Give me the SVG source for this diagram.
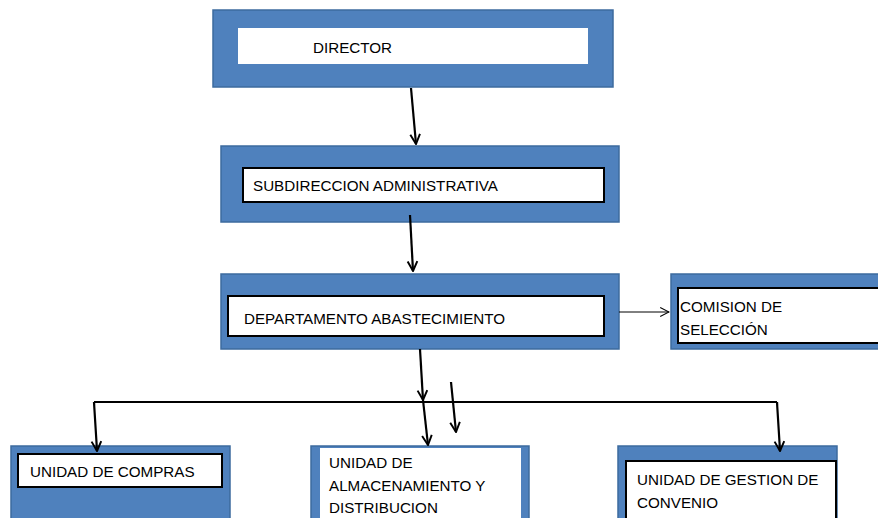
<svg xmlns="http://www.w3.org/2000/svg" width="878" height="518" viewBox="0 0 878 518">
  <style>
    .outer { fill: #4f81bd; stroke: #3d6b9e; stroke-width: 1.5; }
    .inner { fill: #ffffff; stroke: #000000; stroke-width: 2; }
    .plain { fill: #ffffff; stroke: none; }
    .label { font-family: "Liberation Sans", Arial, sans-serif; font-size: 15.2px; fill: #000000; }
    .conn { fill: none; stroke: #000000; stroke-width: 2.2; }
    .thin { fill: none; stroke: #000000; stroke-width: 1; }
  </style>
  <defs>
    <marker id="head" viewBox="0 0 10 10" refX="9" refY="5" markerWidth="5.5" markerHeight="5.5" orient="auto" markerUnits="strokeWidth">
      <path d="M1,1 L9,5 L1,9" fill="none" stroke="#000" stroke-width="1.6"/>
    </marker>
    <marker id="headThin" viewBox="0 0 10 10" refX="9" refY="5" markerWidth="11" markerHeight="11" orient="auto" markerUnits="strokeWidth">
      <path d="M1,1 L9,5 L1,9" fill="none" stroke="#000" stroke-width="1"/>
    </marker>
  </defs>

  <g id="director">
    <rect class="outer" x="213" y="10" width="400" height="77"/>
    <rect class="plain" x="238" y="28" width="350" height="36"/>
    <text class="label" x="313" y="53">DIRECTOR</text>
  </g>

  <g id="subdireccion">
    <rect class="outer" x="221" y="146" width="398" height="76"/>
    <rect class="inner" x="243" y="168" width="361" height="34"/>
    <text class="label" x="253" y="191">SUBDIRECCION ADMINISTRATIVA</text>
  </g>

  <g id="departamento">
    <rect class="outer" x="221" y="274" width="398" height="75"/>
    <rect class="inner" x="228" y="296" width="376" height="40"/>
    <text class="label" x="244" y="324">DEPARTAMENTO ABASTECIMIENTO</text>
  </g>

  <g id="comision">
    <rect class="outer" x="671" y="274" width="212" height="75"/>
    <rect class="inner" x="678" y="288" width="210" height="55"/>
    <text class="label" x="680" y="312">COMISION DE</text>
    <text class="label" x="680" y="335">SELECCIÓN</text>
  </g>

  <g id="compras">
    <rect class="outer" x="11" y="446" width="219" height="80"/>
    <rect class="inner" x="18" y="454" width="204" height="33"/>
    <text class="label" x="30" y="477">UNIDAD DE COMPRAS</text>
  </g>

  <g id="almacenamiento">
    <rect class="outer" x="311" y="446" width="218" height="80"/>
    <rect class="plain" x="320" y="448" width="201" height="80"/>
    <text class="label" x="329" y="468">UNIDAD DE</text>
    <text class="label" x="329" y="491">ALMACENAMIENTO Y</text>
    <text class="label" x="329" y="513">DISTRIBUCION</text>
  </g>

  <g id="convenio">
    <rect class="outer" x="618" y="446" width="219" height="80"/>
    <rect class="inner" x="626" y="461" width="210" height="60"/>
    <text class="label" x="637" y="485">UNIDAD DE GESTION DE</text>
    <text class="label" x="637" y="508">CONVENIO</text>
  </g>

  <g id="connectors">
    <line class="conn" x1="411" y1="88" x2="416" y2="144" marker-end="url(#head)"/>
    <line class="conn" x1="410" y1="215" x2="413" y2="271" marker-end="url(#head)"/>
    <line class="thin" x1="619" y1="312" x2="669" y2="312" marker-end="url(#headThin)"/>
    <line class="conn" x1="420" y1="349" x2="423" y2="400" marker-end="url(#head)"/>
    <line class="conn" x1="423" y1="400" x2="428" y2="445" marker-end="url(#head)"/>
    <line class="conn" x1="451" y1="382" x2="456" y2="432" marker-end="url(#head)"/>
    <polyline class="conn" points="94,402 777,402"/>
    <line class="conn" x1="94" y1="402" x2="97" y2="451" marker-end="url(#head)"/>
    <line class="conn" x1="777" y1="402" x2="780" y2="451" marker-end="url(#head)"/>
  </g>
</svg>
